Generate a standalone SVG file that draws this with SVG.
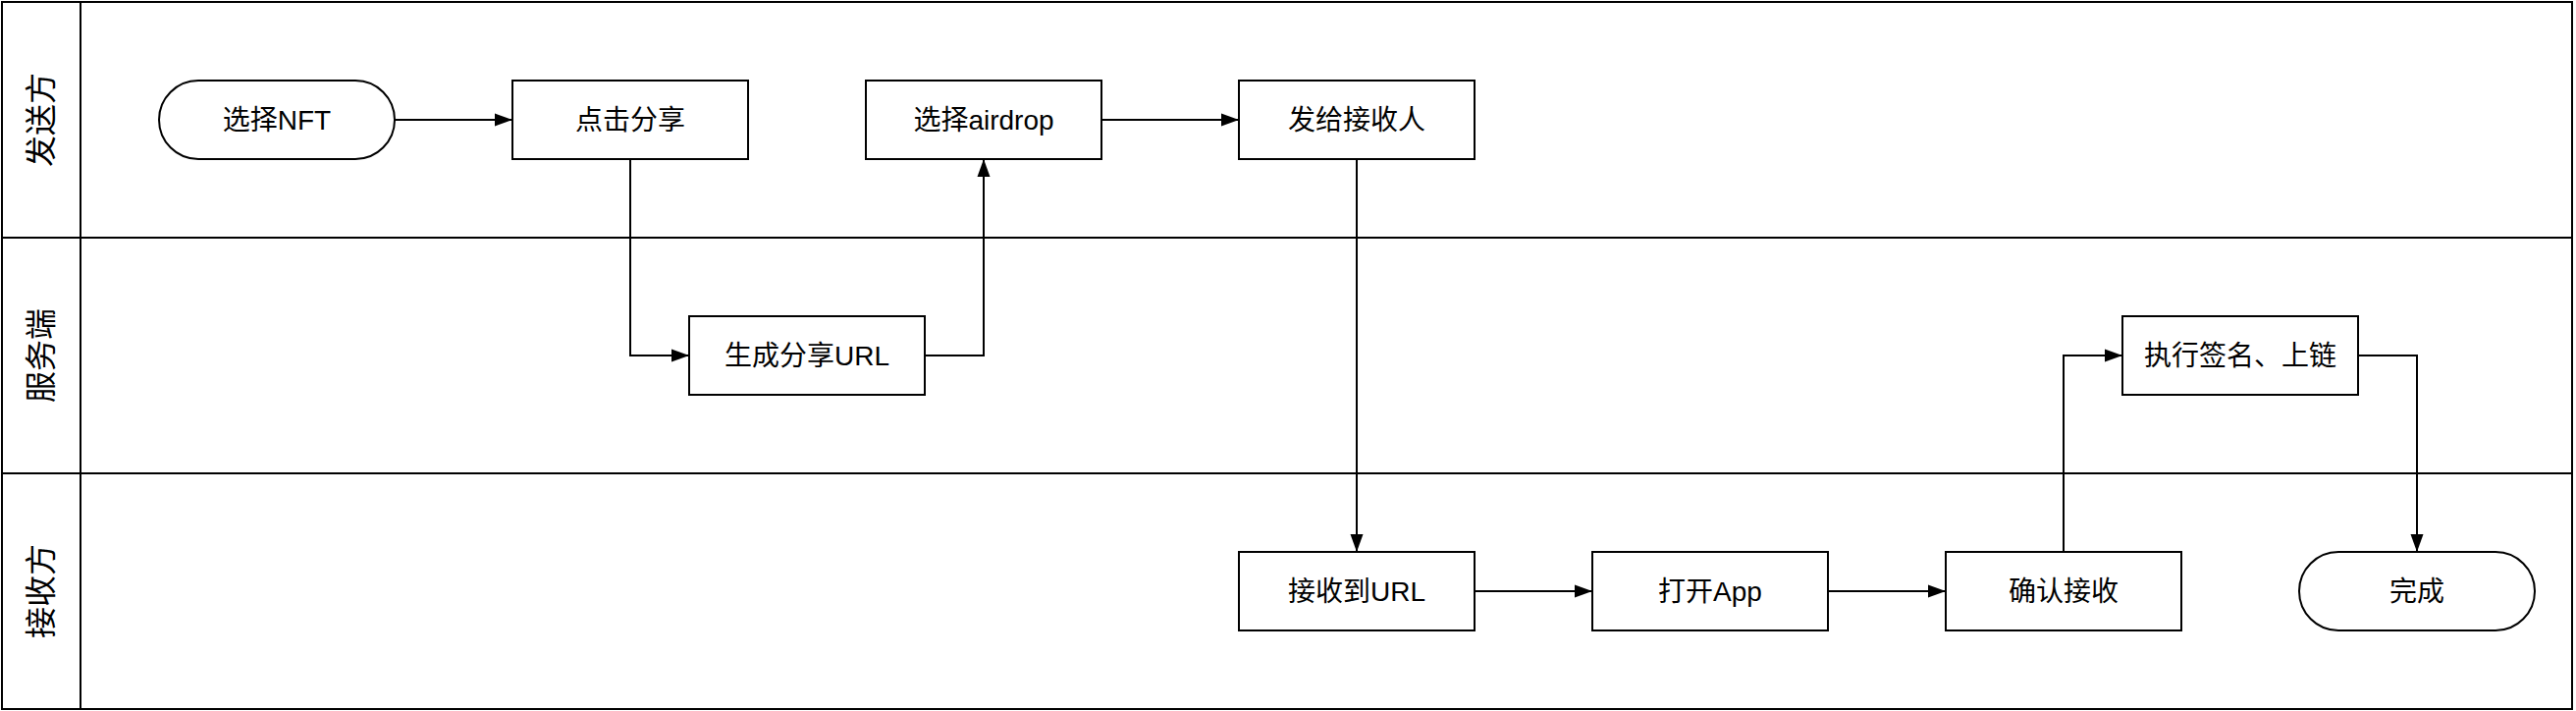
<svg xmlns="http://www.w3.org/2000/svg" width="2624" height="724" viewBox="0 0 2624 724">
<style>
.ln{fill:none;stroke:#000;stroke-width:2}
.nd{fill:#fff;stroke:#000;stroke-width:2}
.t{font-family:"Liberation Sans","Noto Sans CJK SC",sans-serif;font-size:28px;fill:#000;text-anchor:middle;dominant-baseline:central}
.lt{font-size:32px}
.c{fill:none;stroke:#000;stroke-width:2;marker-end:url(#ah)}
</style>
<defs>
<marker id="ah" markerUnits="userSpaceOnUse" markerWidth="18" markerHeight="14" refX="18" refY="7" orient="auto">
<path d="M0,0.5 L18,7 L0,13.5 Z" fill="#000"/>
</marker>
</defs>
<rect x="0" y="0" width="2624" height="724" fill="#fff"/>
<g id="lanes">
<rect class="ln" x="2" y="2" width="2618" height="720"/>
<line class="ln" x1="2" y1="242" x2="2620" y2="242"/>
<line class="ln" x1="2" y1="482" x2="2620" y2="482"/>
<line class="ln" x1="82" y1="2" x2="82" y2="722"/>
<text class="t lt" transform="translate(42,122) rotate(-90)">发送方</text>
<text class="t lt" transform="translate(42,362) rotate(-90)">服务端</text>
<text class="t lt" transform="translate(42,602) rotate(-90)">接收方</text>
</g>
<g id="connectors">
<path class="c" d="M402,122 L522,122"/>
<path class="c" d="M642,162 L642,362 L702,362"/>
<path class="c" d="M942,362 L1002,362 L1002,162"/>
<path class="c" d="M1122,122 L1262,122"/>
<path class="c" d="M1382,162 L1382,562"/>
<path class="c" d="M1502,602 L1622,602"/>
<path class="c" d="M1862,602 L1982,602"/>
<path class="c" d="M2102,562 L2102,362 L2162,362"/>
<path class="c" d="M2402,362 L2462,362 L2462,562"/>
</g>
<g id="n1"><rect class="nd" x="162" y="82" width="240" height="80" rx="40" ry="40"/><text class="t" x="282" y="122">选择NFT</text></g>
<g id="n2"><rect class="nd" x="522" y="82" width="240" height="80"/><text class="t" x="642" y="122">点击分享</text></g>
<g id="n3"><rect class="nd" x="882" y="82" width="240" height="80"/><text class="t" x="1002" y="122">选择airdrop</text></g>
<g id="n4"><rect class="nd" x="1262" y="82" width="240" height="80"/><text class="t" x="1382" y="122">发给接收人</text></g>
<g id="n5"><rect class="nd" x="702" y="322" width="240" height="80"/><text class="t" x="822" y="362">生成分享URL</text></g>
<g id="n6"><rect class="nd" x="2162" y="322" width="240" height="80"/><text class="t" x="2282" y="362">执行签名、上链</text></g>
<g id="n7"><rect class="nd" x="1262" y="562" width="240" height="80"/><text class="t" x="1382" y="602">接收到URL</text></g>
<g id="n8"><rect class="nd" x="1622" y="562" width="240" height="80"/><text class="t" x="1742" y="602">打开App</text></g>
<g id="n9"><rect class="nd" x="1982" y="562" width="240" height="80"/><text class="t" x="2102" y="602">确认接收</text></g>
<g id="n10"><rect class="nd" x="2342" y="562" width="240" height="80" rx="40" ry="40"/><text class="t" x="2462" y="602">完成</text></g>
</svg>
